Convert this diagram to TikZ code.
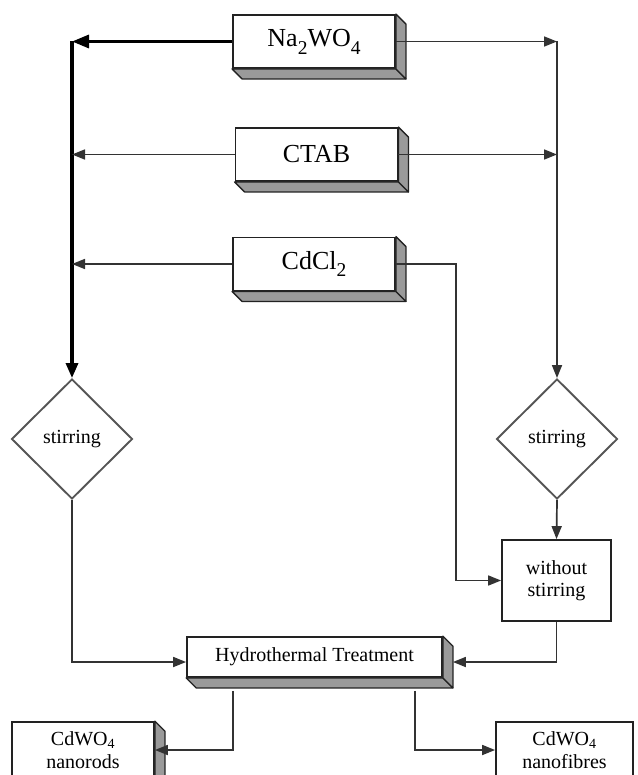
\documentclass[tikz,border=0pt]{standalone}
\usepackage{fontspec}
\setmainfont{Liberation Serif}
\usetikzlibrary{arrows.meta,shapes.geometric}
\definecolor{shadowgray}{HTML}{9A9A9A}
\definecolor{ln}{HTML}{333333}
\definecolor{bx}{HTML}{222222}
\definecolor{dia}{HTML}{555555}
\tikzset{
 bigbox/.style={draw=bx,line width=1.9pt,fill=white,minimum width=162pt,minimum height=53pt,inner sep=0pt,font=\fontsize{26}{28}\selectfont},
 midbox/.style={draw=bx,line width=1.8pt,fill=white,inner sep=0pt,font=\fontsize{20}{22}\selectfont,align=center},
 decision/.style={diamond,draw=dia,line width=1.9pt,fill=white,inner sep=0pt,minimum width=121pt,minimum height=120pt,font=\fontsize{20}{22}\selectfont},
 conn/.style={draw=ln,line width=1.7pt,-{Triangle[length=13pt,width=10pt]}},
 heavy/.style={draw=black,line width=3.2pt},
 shadowface/.style={fill=shadowgray,draw=bx,line width=1.3pt,line join=round},
}
\newcommand\lowsub[1]{\raisebox{-0.3em}{\scalebox{0.75}{#1}}}
\newcommand\dep{10}
\newcommand\mkshadow[1]{%
  \path[shadowface] (#1.south west) -- (#1.south east) -- ([shift={(\dep,\dep)}]#1.south east) -- ([shift={(\dep,\dep)}]#1.south west) -- cycle;
  \path[shadowface] (#1.north east) -- ([shift={(\dep,\dep)}]#1.north east) -- ([shift={(\dep,\dep)}]#1.south east) -- (#1.south east) -- cycle;
}
\begin{document}
\begin{tikzpicture}[x=1pt,y=-1pt]
\useasboundingbox (0,0) rectangle (637,775);
% nodes
\node[bigbox] (na) at (314,41.5) {Na\lowsub{2}WO\lowsub{4}};
\node[bigbox] (ctab) at (316.5,154.5) {CTAB};
\node[bigbox] (cd) at (314,264) {CdCl\lowsub{2}};
\node[decision] (dl) at (72,439) {stirring};
\node[decision] (dr) at (557,439) {stirring};
\node[midbox,minimum width=109pt,minimum height=81pt] (ws) at (556.5,580.5) {without\\stirring};
\node[midbox,minimum width=255pt,minimum height=40pt] (ht) at (314.5,657) {Hydrothermal Treatment};
\node[midbox,minimum width=142pt,minimum height=56pt] (nr) at (83,750) {CdWO\textsubscript{4}\\[1pt]nanorods};
\node[midbox,minimum width=137pt,minimum height=56pt] (nf) at (564.5,750) {CdWO\textsubscript{4}\\[1pt]nanofibres};
% 3D faces
\mkshadow{na}
\mkshadow{ctab}
\mkshadow{cd}
\mkshadow{ht}
\mkshadow{nr}
% junction coordinates
\coordinate (LT) at (72,41.5);
\coordinate (RT) at (557,41.5);
\coordinate (cdx) at (456,580.5);
% connectors
\draw[heavy,-{Triangle[length=17pt,width=13pt]}] (na.west) -- (LT);
\draw[heavy,-{Triangle[length=15pt,width=12pt]}] (LT) -- (dl.north);
\draw[conn] (ctab.west) -- (ctab.west -| LT);
\draw[conn] (cd.west) -- (cd.west -| LT);
\draw[conn] (na.east) -- (RT);
\draw[conn] (ctab.east) -- (ctab.east -| RT);
\draw[conn] (RT) -- (dr.north);
\draw[conn] (cd.east) -| (cdx) -- (ws.west);
\draw[conn] (dr.south) -- (ws.north);
\draw[conn] (dl.south) |- ([yshift=-5pt]ht.west);
\draw[conn] (ws.south) |- ([shift={(\dep,5)}]ht.east);
\draw[conn] ([shift={(-81.5,13)}]ht.south) |- (nr.east);
\draw[conn] ([shift={(100.5,13)}]ht.south) |- (nf.west);
\end{tikzpicture}
\end{document}
